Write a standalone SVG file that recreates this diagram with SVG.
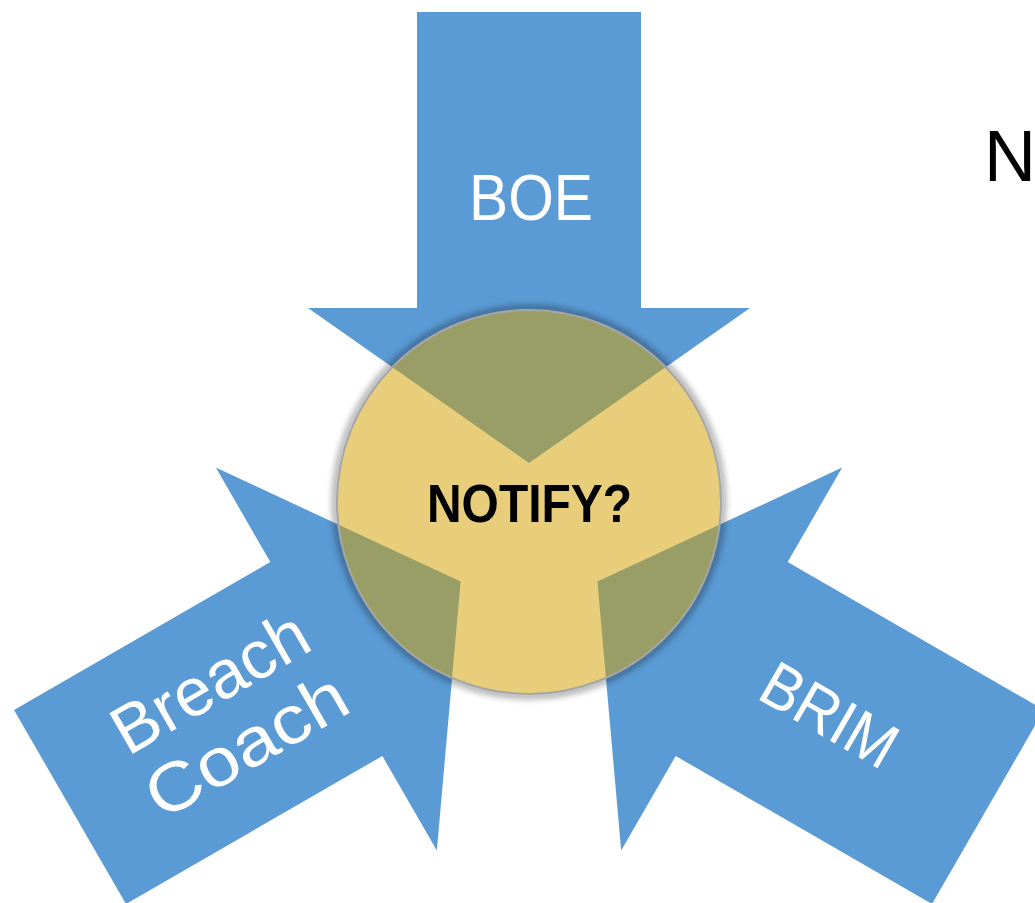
<svg xmlns="http://www.w3.org/2000/svg" width="1035" height="903" viewBox="0 0 1035 903">
  <defs>
    <style>
      .arrow { fill: #5B9BD5; }
      .lbl { font-family: "Liberation Sans", Arial, sans-serif; fill: #FFFFFF; }
    </style>
    <polygon id="arrowShape" points="417,12 641,12 641,308 750,308 529,463 308,308 417,308"/>
    <filter id="blur" x="-20%" y="-20%" width="140%" height="140%">
      <feGaussianBlur stdDeviation="3"/>
    </filter>
    <mask id="outside">
      <rect x="0" y="0" width="1035" height="903" fill="#fff"/>
      <circle cx="529" cy="502" r="192" fill="#000"/>
    </mask>
  </defs>
  <rect x="0" y="0" width="1035" height="903" fill="#FFFFFF"/>

  <g id="connectors">
    <g id="arrow-boe">
      <use href="#arrowShape" class="arrow"/>
      <text class="lbl" x="531" y="220" font-size="65" text-anchor="middle" textLength="124" lengthAdjust="spacingAndGlyphs">BOE</text>
    </g>
    <g id="arrow-breach-coach">
      <use href="#arrowShape" class="arrow" transform="rotate(-120 529 542)"/>
      <g transform="translate(239.7 734) rotate(-30)">
        <text class="lbl" x="0" y="-36.5" font-size="68" text-anchor="middle" textLength="216" lengthAdjust="spacingAndGlyphs">Breach</text>
        <text class="lbl" x="0" y="36.5" font-size="68" text-anchor="middle" textLength="222" lengthAdjust="spacingAndGlyphs">Coach</text>
      </g>
    </g>
    <g id="arrow-brim">
      <use href="#arrowShape" class="arrow" transform="rotate(120 529 542)"/>
      <text class="lbl" transform="translate(818.4 734) rotate(30)" x="0" y="0" font-size="64" text-anchor="middle" textLength="146" lengthAdjust="spacingAndGlyphs">BRIM</text>
    </g>
  </g>

  <g id="node-notify">
    <circle cx="529" cy="502" r="194" fill="none" stroke="#000" stroke-opacity="0.35" stroke-width="6" filter="url(#blur)" mask="url(#outside)"/>
    <circle cx="529" cy="502" r="192" fill="#D3A100" fill-opacity="0.52" stroke="#A6A6A6" stroke-width="2"/>
    <text x="529.5" y="522" text-anchor="middle" font-family="Liberation Sans, Arial, sans-serif" font-weight="bold" font-size="54" fill="#000" textLength="205" lengthAdjust="spacingAndGlyphs">NOTIFY?</text>
  </g>

  <g id="node-n">
    <text x="984" y="181" font-family="Liberation Sans, Arial, sans-serif" font-size="72" fill="#000">N</text>
  </g>
</svg>
